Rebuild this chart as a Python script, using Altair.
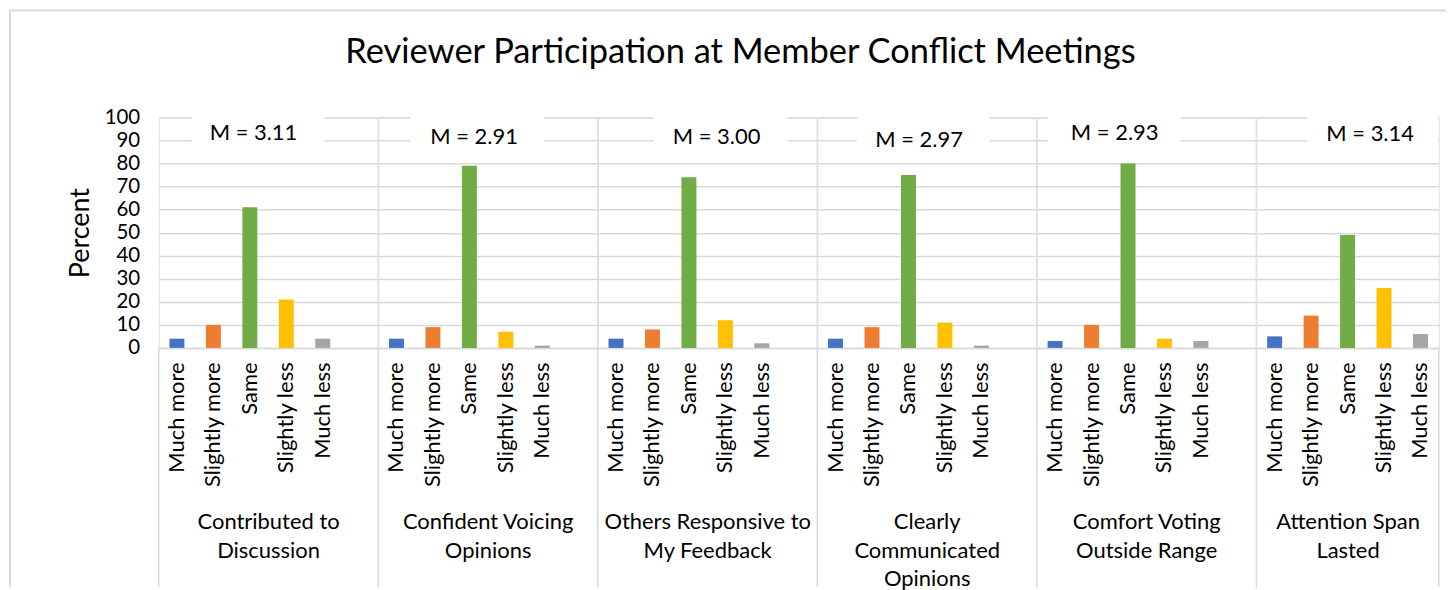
import altair as alt
import pandas as pd

# ---------------- data ----------------
group_lines = [
    ["Contributed to", "Discussion"],
    ["Confident Voicing", "Opinions"],
    ["Others Responsive to", "My Feedback"],
    ["Clearly", "Communicated", "Opinions"],
    ["Comfort Voting", "Outside Range"],
    ["Attention Span", "Lasted"],
]
responses = ["Much more", "Slightly more", "Same", "Slightly less", "Much less"]
colors = ["#4472C4", "#ED7D31", "#70AD47", "#FFC000", "#A5A5A5"]
much_more = [4, 4, 4, 4, 3, 5]
slightly_more = [10, 9, 8, 9, 10, 14]
same = [61, 79, 74, 75, 80, 49]
slightly_less = [21, 7, 12, 11, 4, 26]
much_less = [4, 1, 2, 1, 3, 6]
means = ["3.11", "2.91", "3.00", "2.97", "2.93", "3.14"]
title_text = "Reviewer Participation at Member Conflict Meetings"

# ---------------- layout / style ----------------
FONT = "Lato"
PLOT_H = 231
SLOT = 36.54
GRID = "#d9d9d9"
LBL = 22
# mean-label boxes (pixel positions inside each panel)
box_x0 = [33, 32, 56, 40, 11, 51]
box_x1 = [166, 166, 190, 173, 144, 182]
txt_x = [95, 96, 119, 102, 78, 114]
txt_y = [16, 20, 20, 23, 16, 17]

series = [much_more, slightly_more, same, slightly_less, much_less]


def panel(i):
    last = i == 5
    domain = responses if last else responses + ["gap"]
    width = SLOT * len(domain)
    df = pd.DataFrame({"resp": responses, "pct": [s[i] for s in series]})

    x = alt.X(
        "resp:N",
        sort=domain,
        scale=alt.Scale(domain=domain, paddingInner=0, paddingOuter=0),
        axis=alt.Axis(
            values=responses,
            title=group_lines[i],
            labelAngle=-90,
            labelAlign="right",
            labelBaseline="middle",
            labelPadding=14,
            labelFont=FONT,
            labelFontSize=LBL,
            labelColor="black",
            ticks=False,
            domainColor=GRID,
            domainWidth=1.5,
            titleFont=FONT,
            titleFontSize=LBL,
            titleFontWeight="normal",
            titleColor="black",
            titleLineHeight=29,
            titlePadding=24,
        ),
    )
    if i == 0:
        yaxis = alt.Axis(
            values=list(range(0, 101, 10)),
            title="Percent",
            grid=True,
            gridColor=GRID,
            gridWidth=1.5,
            ticks=False,
            domain=False,
            labelFont=FONT,
            labelFontSize=20.5,
            labelColor="black",
            labelPadding=19,
            titleFont=FONT,
            titleFontSize=27,
            titleFontWeight="normal",
            titleColor="black",
            titlePadding=10,
        )
    else:
        yaxis = alt.Axis(
            values=list(range(0, 101, 10)),
            title=None,
            labels=False,
            grid=True,
            gridColor=GRID,
            gridWidth=1.5,
            ticks=False,
            domain=False,
        )
    y = alt.Y("pct:Q", scale=alt.Scale(domain=[0, 100]), axis=yaxis)

    bars = alt.Chart(df).mark_bar(size=15).encode(
        x=x,
        y=y,
        color=alt.Color("resp:N", scale=alt.Scale(domain=responses, range=colors), legend=None),
    )
    one = pd.DataFrame({"m": ["M = " + means[i]]})
    box = alt.Chart(one).mark_rect(color="white").encode(
        x=alt.value(box_x0[i]), x2=alt.value(box_x1[i]), y=alt.value(-6), y2=alt.value(38)
    )
    mtxt = alt.Chart(one).mark_text(font=FONT, fontSize=LBL, color="black").encode(
        text="m:N", x=alt.value(txt_x[i]), y=alt.value(txt_y[i])
    )
    sep = alt.Chart(one).mark_rule(color=GRID, strokeWidth=1.5).encode(
        x=alt.value(0), y=alt.value(PLOT_H), y2=alt.value(PLOT_H + 240)
    )
    layers = [bars, box, mtxt, sep]
    if last:
        layers.append(
            alt.Chart(one).mark_rule(color=GRID, strokeWidth=1.5).encode(
                x=alt.value(width), y=alt.value(PLOT_H), y2=alt.value(PLOT_H + 240)
            )
        )
    if i == 0:
        tdf = pd.DataFrame({"t": [title_text]})
        layers.append(
            alt.Chart(tdf).mark_text(font=FONT, fontSize=34.5, color="black").encode(
                text="t:N", x=alt.value(583), y=alt.value(-64)
            )
        )
        layers.append(
            alt.Chart(one).mark_rule(color=GRID, strokeWidth=2).encode(
                x=alt.value(-149), y=alt.value(-107), y2=alt.value(PLOT_H + 240)
            )
        )
        layers.append(
            alt.Chart(one).mark_rule(color=GRID, strokeWidth=2).encode(
                x=alt.value(-149), x2=alt.value(1290), y=alt.value(-107)
            )
        )
    return alt.layer(*layers).properties(width=width, height=PLOT_H)


chart = (
    alt.hconcat(*[panel(i) for i in range(6)], spacing=0, bounds="flush")
    .properties(padding=0)
    .configure_view(stroke=None)
    .configure(font=FONT)
)

chart.save("out.html", embed_options={"renderer": "svg", "actions": False})
